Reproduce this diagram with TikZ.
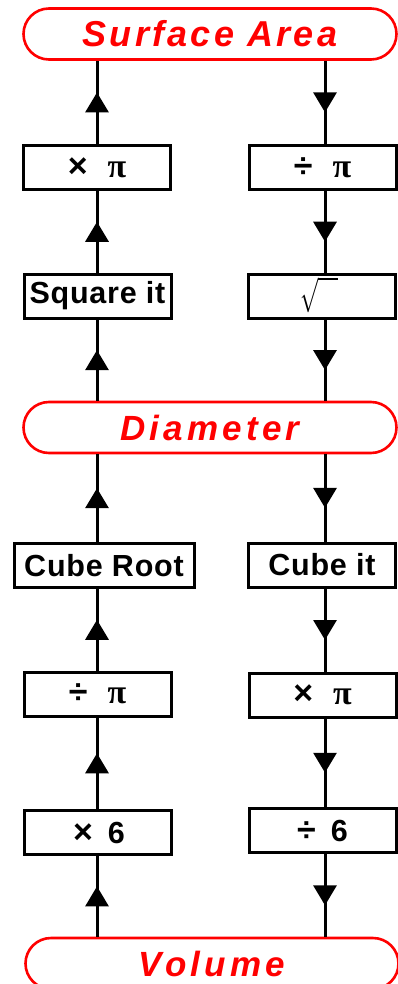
\documentclass[tikz,border=0pt]{standalone}
\usepackage{fontspec}
\usepackage{graphicx}
\setmainfont{Liberation Sans}
\newfontfamily\spacedfont[LetterSpace=9]{Liberation Sans}
\newfontfamily\widefont[LetterSpace=12]{Liberation Sans}
\newfontfamily\labelfont[LetterSpace=2.5]{Liberation Sans}
\newfontfamily\greekfont{Liberation Serif}
\usetikzlibrary{shapes.misc,arrows.meta,decorations.markings}
\definecolor{titlered}{RGB}{255,0,0}
\newsavebox\radbox
\tikzset{
  opbox/.style={draw=black, line width=3pt, minimum width=147pt, minimum height=44pt,
    inner sep=0pt, font=\fontsize{30.5}{30.5}\labelfont\bfseries},
  stadium/.style={draw=titlered, line width=2.6pt, rounded rectangle, rounded rectangle arc length=180,
    minimum width=373pt, minimum height=51pt, inner sep=0pt, text=titlered,
    font=\fontsize{36}{36}\spacedfont\bfseries\itshape},
  link/.style={line width=3pt, draw=black},
  midarrow/.style={postaction={decorate}, decoration={markings,
    mark=at position 0.5 with {\arrow[xshift=10pt]{Triangle[width=23pt,length=20pt]}}}}
}
\newcommand{\pisym}{{\fontsize{34}{34}\greekfont\bfseries π}}
\newcommand{\opsym}[1]{{\fontsize{34}{34}\selectfont\bfseries #1}}
\newcommand{\radsym}{\raisebox{\dimexpr(\dp\radbox-\ht\radbox)/2+1pt\relax}[0pt][0pt]{\usebox\radbox}}
\begin{document}
\sbox\radbox{\resizebox*{38pt}{36pt}{$\sqrt{\hspace{9pt}}$}}%
\begin{tikzpicture}[x=1pt,y=-1pt]
\useasboundingbox (0,0) rectangle (398,984);
\clip (0,0) rectangle (398,984);
% column coordinates
\coordinate (L) at (97,0);
\coordinate (R) at (325,0);
% stadium nodes
\node[stadium] (SA) at (210,34) {Surface Area};
\node[stadium, font=\fontsize{35}{35}\widefont\bfseries\itshape] (D) at (210,427.5) {Diameter};
\node[stadium, font=\fontsize{35}{35}\widefont\bfseries\itshape] (V) at (212,963.5) {Volume};
% left column boxes
\node[opbox] (l1) at (97,167.5) {\opsym{×}\hspace{20pt}\pisym};
\node[opbox] (l2) at (97.5,296) {Square it};
\node[opbox, minimum width=180pt] (l3) at (104,565.5) {Cube Root};
\node[opbox] (l4) at (97.5,694) {\opsym{÷}\hspace{20pt}\pisym};
\node[opbox] (l5) at (97.5,832.5) {\hspace{3pt}\opsym{×}\hspace{15pt}6};
% right column boxes
\node[opbox] (r1) at (322.5,167.5) {\opsym{÷}\hspace{20pt}\pisym};
\node[opbox] (r2) at (322,296) {\hspace{-6pt}\radsym};
\node[opbox] (r3) at (322,565) {Cube it};
\node[opbox] (r4) at (322.5,695) {\opsym{×}\hspace{20pt}\pisym};
\node[opbox] (r5) at (322.5,830.5) {\opsym{÷}\hspace{15pt}6};
% left connectors (upwards)
\draw[link, midarrow] (V.north -| L) -- (l5.south -| L);
\draw[link, midarrow] (l5.north -| L) -- (l4.south -| L);
\draw[link, midarrow] (l4.north -| L) -- (l3.south -| L);
\draw[link, midarrow] (l3.north -| L) -- (D.south -| L);
\draw[link, midarrow] (D.north -| L) -- (l2.south -| L);
\draw[link, midarrow] (l2.north -| L) -- (l1.south -| L);
\draw[link, midarrow] (l1.north -| L) -- (SA.south -| L);
% right connectors (downwards)
\draw[link, midarrow] (SA.south -| R) -- (r1.north -| R);
\draw[link, midarrow] (r1.south -| R) -- (r2.north -| R);
\draw[link, midarrow] (r2.south -| R) -- (D.north -| R);
\draw[link, midarrow] (D.south -| R) -- (r3.north -| R);
\draw[link, midarrow] (r3.south -| R) -- (r4.north -| R);
\draw[link, midarrow] (r4.south -| R) -- (r5.north -| R);
\draw[link, midarrow] (r5.south -| R) -- (V.north -| R);
\end{tikzpicture}
\end{document}
